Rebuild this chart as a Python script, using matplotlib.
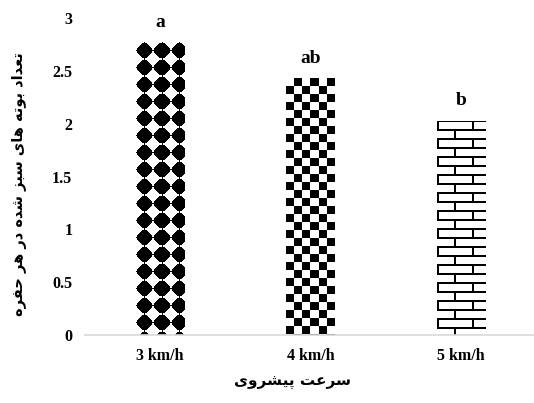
import numpy as np
import matplotlib
matplotlib.use("Agg")
import matplotlib.pyplot as plt

# data
categories = ["3 km/h", "4 km/h", "5 km/h"]
values = [2.77, 2.43, 2.03]
letters = ["a", "ab", "b"]
yticks = [0, 0.5, 1, 1.5, 2, 2.5, 3]
ytick_labels = ["0", "0.5", "1", "1.5", "2", "2.5", "3"]
xlabel_fa = "سرعت پیشروی"
ylabel_fa = "تعداد بوته های سبز شده در هر حفره"

# matplotlib has no arabic shaping, so map to presentation forms by hand
FORMS = {
    'ا': (0xFE8D, 0xFE8E, None, None),
    'ب': (0xFE8F, 0xFE90, 0xFE91, 0xFE92),
    'ت': (0xFE95, 0xFE96, 0xFE97, 0xFE98),
    'ح': (0xFEA1, 0xFEA2, 0xFEA3, 0xFEA4),
    'د': (0xFEA9, 0xFEAA, None, None),
    'ر': (0xFEAD, 0xFEAE, None, None),
    'ز': (0xFEAF, 0xFEB0, None, None),
    'س': (0xFEB1, 0xFEB2, 0xFEB3, 0xFEB4),
    'ش': (0xFEB5, 0xFEB6, 0xFEB7, 0xFEB8),
    'ع': (0xFEC9, 0xFECA, 0xFECB, 0xFECC),
    'ف': (0xFED1, 0xFED2, 0xFED3, 0xFED4),
    'ه': (0xFEE9, 0xFEEA, 0xFEEB, 0xFEEC),
    'و': (0xFEED, 0xFEEE, None, None),
    'پ': (0xFB56, 0xFB57, 0xFB58, 0xFB59),
    'ی': (0xFBFC, 0xFBFD, 0xFBFE, 0xFBFF),
}


def shape(text):
    out = []
    for i, c in enumerate(text):
        if c not in FORMS:
            out.append(c)
            continue
        prev = text[i - 1] if i > 0 else None
        nxt = text[i + 1] if i + 1 < len(text) else None
        jp = prev in FORMS and FORMS[prev][2] is not None
        jn = FORMS[c][2] is not None and nxt in FORMS
        f = FORMS[c]
        if jp and jn:
            out.append(chr(f[3]))
        elif jp:
            out.append(chr(f[1]))
        elif jn:
            out.append(chr(f[2]))
        else:
            out.append(chr(f[0]))
    return "".join(out)[::-1]


# pattern tiles (pixels, 1 = black)
def checker_tile(n=8):
    t = np.zeros((2 * n, 2 * n))
    t[:n, n:] = 1
    t[n:, :n] = 1
    return t


def diamond_tile(n=17):
    yy, xx = np.mgrid[0:n, 0:n] - (n - 1) / 2
    r = n / 2
    return ((np.abs(xx) ** 1.15 + np.abs(yy) ** 1.15) <= r ** 1.15).astype(float)


def brick_tile(h=9, w=17):
    t = np.zeros((2 * h, 2 * w))
    t[0:2, :] = 1
    t[h:h + 2, :] = 1
    t[:h, 0:2] = 1
    t[h:, w:w + 2] = 1
    return t


tiles = [diamond_tile(), checker_tile(), brick_tile()]

fig = plt.figure(figsize=(5.34, 4.03), dpi=100)
ax = fig.add_axes([0.159, 0.1687, 0.845, 0.7866])
x = np.arange(len(categories))
bars = ax.bar(x, values, width=0.32, color="none", edgecolor="none")
ax.set_xlim(-0.5, 2.5)
ax.set_ylim(0, 3)

# fill each bar with a pixel pattern clipped to the bar
fig.canvas.draw()
for bar, tile in zip(bars, tiles):
    x0, w, h = bar.get_x(), bar.get_width(), bar.get_height()
    p0 = ax.transData.transform((x0, 0))
    p1 = ax.transData.transform((x0 + w, h))
    pw, ph = int(round(p1[0] - p0[0])), int(round(p1[1] - p0[1]))
    reps = (ph // tile.shape[0] + 2, pw // tile.shape[1] + 2)
    img = np.tile(tile, reps)[:ph, :pw]
    im = ax.imshow(1 - img, cmap="gray", vmin=0, vmax=1, interpolation="nearest",
                   extent=(x0, x0 + w, 0, h), origin="upper", aspect="auto", zorder=2)
    im.set_clip_path(bar)

for xi, v, lab in zip(x, values, letters):
    ax.annotate(lab, (xi, v), xytext=(0, 8), textcoords="offset points",
                ha="center", va="bottom", fontsize=14, fontweight="bold",
                family="Liberation Serif")

ax.set_xticks(x)
ax.set_xticklabels(categories, fontsize=11.5, fontweight="bold", family="Liberation Serif")
ax.set_yticks(yticks)
ax.set_yticklabels(ytick_labels, fontsize=11.5, fontweight="bold", family="Liberation Serif")
ax.tick_params(axis="both", length=0)
ax.tick_params(axis="y", pad=9)
ax.tick_params(axis="x", pad=9)
for s in ["top", "right", "left"]:
    ax.spines[s].set_visible(False)
ax.spines["bottom"].set_color("#d9d9d9")
ax.spines["bottom"].set_linewidth(1.2)

fig.text(293 / 534, 1 - 382 / 403, shape(xlabel_fa), ha="center", va="center",
         fontsize=11, fontweight="bold", family="DejaVu Sans")
fig.text(20 / 534, 1 - 184 / 403, shape(ylabel_fa), ha="center", va="center",
         rotation=90, fontsize=10.5, fontweight="bold", family="DejaVu Sans")

fig.savefig("out.png", dpi=100)
